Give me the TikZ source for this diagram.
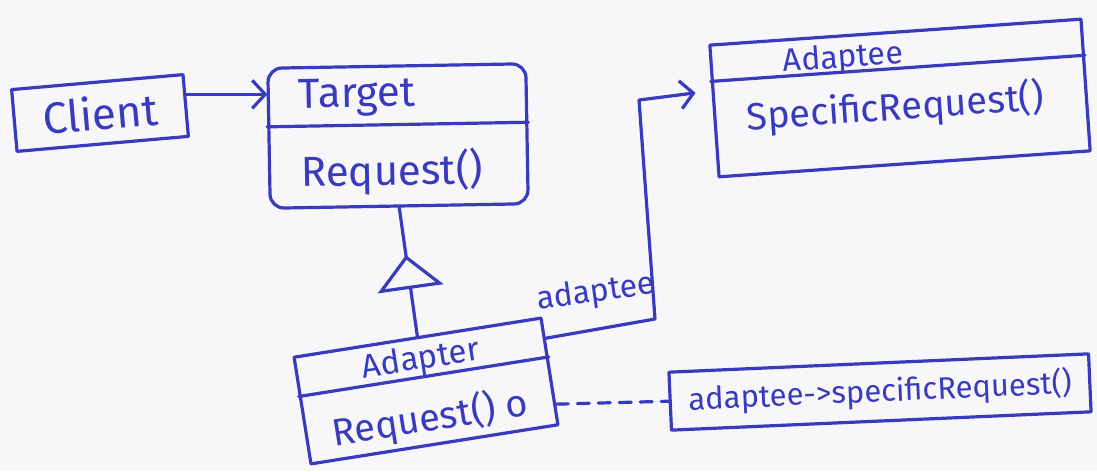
\documentclass[tikz,border=0pt]{standalone}
\usepackage{fontspec}
\setmainfont{Fira Sans}
\usetikzlibrary{arrows.meta,calc,decorations.markings}
\definecolor{ink}{RGB}{58,58,190}
\definecolor{paper}{RGB}{247,247,250}
\begin{document}
\begin{tikzpicture}[x=1pt,y=-1pt,
  inkline/.style={draw=ink, line width=3.2pt, line join=round, line cap=round},
  classbox/.style={inkline, inner sep=0pt},
  txt/.style={text=ink, inner sep=0pt},
  fsz/.style={font=\fontsize{#1}{#1}\selectfont},
  openhead/.style={-{Straight Barb[length=13pt,width=28pt]}},
]
% sheet
\path[fill=paper] (0,0) rectangle (1097,471);

% Client
\node[classbox, minimum width=172, minimum height=62, rotate=5, text=ink, fsz=44] (client) at (100,113) {Client};

% Target class
\node[classbox, rounded corners=14pt, minimum width=258, minimum height=140, rotate=1] (target) at (398,136) {};
\draw[inkline] ($(target.north west)!0.42!(target.south west)$) -- ($(target.north east)!0.42!(target.south east)$);
\node[txt, fsz=42, rotate=1] (targetname) at (357,97) {Target};
\node[txt, fsz=42, rotate=1] (targetop) at (392,172) {Request()};

% Adaptee class
\node[classbox, minimum width=372, minimum height=132, rotate=4] (adaptee) at (900,98) {};
\draw[inkline] ($(adaptee.north west)!0.28!(adaptee.south west)$) -- ($(adaptee.north east)!0.28!(adaptee.south east)$);
\node[txt, fsz=32, rotate=4] (adapteename) at (843,59) {Adaptee};
\node[txt, fsz=38, rotate=4] (adapteeop) at (895,108) {SpecificRequest()};

% Adapter class
\node[classbox, minimum width=250, minimum height=108, rotate=9] (adapter) at (426,391) {};
\draw[inkline] ($(adapter.north west)!0.37!(adapter.south west)$) -- ($(adapter.north east)!0.37!(adapter.south east)$);
\node[txt, fsz=33, rotate=9] (adaptername) at (421,360) {Adapter};
\node[txt, fsz=38, rotate=9] (adapterop) at (430,419) {Request() o};

% note
\node[classbox, minimum width=420, minimum height=58, rotate=2.5, text=ink, fsz=31] (note) at (880,392) {adaptee->specificRequest()};

% Client -> Target
\coordinate (cl) at ($(client.north east)!0.33!(client.south east)$);
\draw[inkline, openhead] (cl) -- (cl -| target.west);

% Adapter generalises Target
\draw[inkline, postaction=decorate,
  decoration={markings, mark=at position 0.63 with {\arrow{Triangle[length=34pt,width=66pt,fill=paper]}}}]
  (adapter.north) -- (target.south);

% Adapter -> Adaptee association
\coordinate (asc) at ($(adapter.north east)!0.2!(adapter.south east)$);
\coordinate (bend1) at (655,319);
\coordinate (bend2) at (639,100);
\coordinate (adt) at ($(adaptee.north west)!0.35!(adaptee.south west)$);
\draw[inkline, openhead, shorten >=16pt] (asc) -- (bend1) -- (bend2) -- (adt);
\node[txt, fsz=32, rotate=8] (assoclabel) at (596,293) {adaptee};

% note attachment
\coordinate (dsh) at ($(adapter.north east)!0.8!(adapter.south east)$);
\draw[inkline, dash pattern=on 12pt off 9pt] (dsh) -- (note.west);
\end{tikzpicture}
\end{document}
